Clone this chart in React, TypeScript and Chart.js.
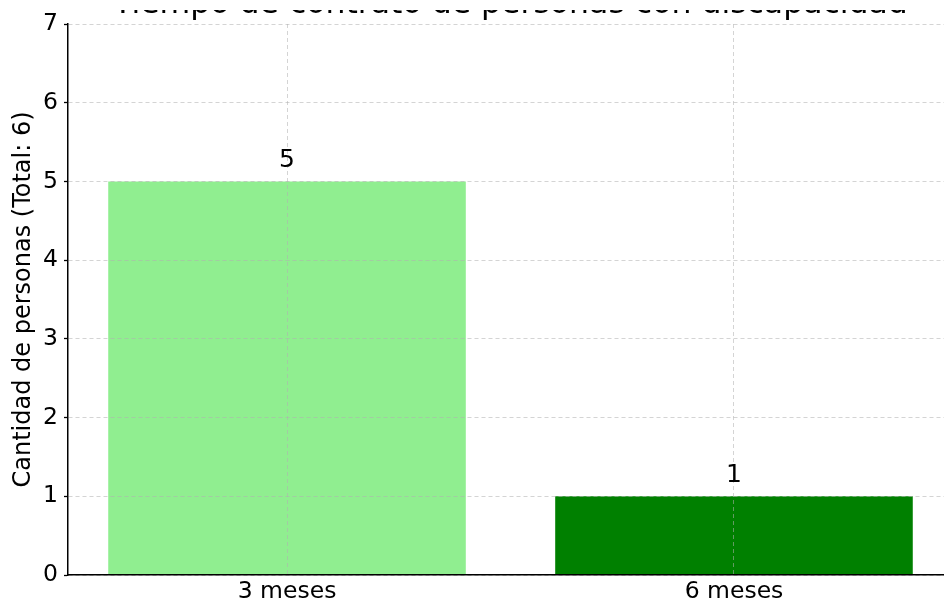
import React, { useEffect, useRef } from "react";
import { Chart, registerables } from "chart.js";

Chart.register(...registerables);

const TITLE = "Tiempo de contrato de personas con discapacidad";
const Y_LABEL = "Cantidad de personas (Total: 6)";
const CATEGORIES = ["3 meses", "6 meses"];
const VALUES = [5, 1];
const BAR_COLORS = ["#90ee90", "#008000"];
const Y_TICKS = [0, 1, 2, 3, 4, 5, 6, 7];

const FONT = "'DejaVu Sans', sans-serif";
const GRID_COLOR = "rgba(176,176,176,0.55)";

export default function App() {
  const ref = useRef<HTMLCanvasElement>(null);

  useEffect(() => {
    const canvas = ref.current;
    if (!canvas) return;

    const titlePlugin = {
      id: "topTitle",
      afterDraw(chart: any) {
        const { ctx, chartArea } = chart;
        ctx.save();
        ctx.font = `31.5px ${FONT}`;
        ctx.fillStyle = "#000";
        ctx.textAlign = "center";
        ctx.textBaseline = "alphabetic";
        ctx.fillText(TITLE, (chartArea.left + chartArea.right) / 2, chartArea.top - 11);
        // the reference picture is cropped: only the lower part of the title shows
        ctx.fillStyle = "#fff";
        ctx.fillRect(0, 0, chart.width, 10);
        ctx.restore();
      },
    };

    const valueLabels = {
      id: "valueLabels",
      afterDraw(chart: any) {
        const { ctx } = chart;
        const meta = chart.getDatasetMeta(0);
        ctx.save();
        ctx.font = `25px ${FONT}`;
        ctx.fillStyle = "#000";
        ctx.textAlign = "center";
        ctx.textBaseline = "alphabetic";
        meta.data.forEach((bar: any, i: number) => {
          ctx.fillText(String(VALUES[i]), bar.x, bar.y - 14);
        });
        ctx.restore();
      },
    };

    const chart = new Chart(canvas, {
      type: "bar",
      data: {
        datasets: [
          {
            data: VALUES.map((v, i) => ({ x: i, y: v })),
            backgroundColor: BAR_COLORS,
            borderWidth: 0,
            barPercentage: 0.8,
            categoryPercentage: 1,
          } as any,
        ],
      },
      options: {
        responsive: false,
        animation: false,
        layout: { padding: { top: 24, right: 17, left: 0, bottom: 0 } },
        plugins: {
          legend: { display: false },
          tooltip: { enabled: false },
          title: { display: false },
        },
        scales: {
          x: {
            type: "linear",
            min: -0.49,
            max: 1.49,
            offset: false,
            afterBuildTicks: (s: any) => {
              s.ticks = CATEGORIES.map((_, i) => ({ value: i }));
            },
            afterFit: (s: any) => {
              s.height = 29;
            },
            ticks: {
              callback: (_v: any, i: number) => CATEGORIES[i] ?? "",
              font: { family: FONT, size: 23.5 },
              color: "#000",
              padding: 3,
              maxRotation: 0,
              autoSkip: false,
            },
            grid: {
              offset: false,
              color: GRID_COLOR,
              lineWidth: 1,
              drawTicks: false,
              z: 1,
            },
            border: { color: "#000", width: 1.5, dash: [4, 3], z: 2 },
          } as any,
          y: {
            type: "linear",
            min: 0,
            max: 7,
            afterBuildTicks: (s: any) => {
              s.ticks = Y_TICKS.map((v) => ({ value: v }));
            },
            afterFit: (s: any) => {
              s.width = 68;
            },
            ticks: {
              font: { family: FONT, size: 23.5 },
              color: "#000",
              padding: 6,
            },
            title: {
              display: true,
              text: Y_LABEL,
              font: { family: FONT, size: 24 },
              color: "#000",
              padding: { top: 9, bottom: 0 },
            },
            grid: {
              color: GRID_COLOR,
              lineWidth: 1,
              drawTicks: true,
              tickLength: 4,
              tickColor: "#000",
              tickWidth: 1.3,
              tickBorderDash: [],
              z: 1,
            },
            border: { color: "#000", width: 1.5, dash: [4, 3], z: 2 },
          } as any,
        },
      },
      plugins: [titlePlugin, valueLabels],
    });

    return () => chart.destroy();
  }, []);

  return (
    <div
      style={{
        position: "fixed",
        left: 0,
        top: 0,
        width: 944,
        height: 604,
        overflow: "hidden",
        background: "#fff",
      }}
    >
      <canvas ref={ref} width={970} height={604} style={{ display: "block" }} />
    </div>
  );
}
